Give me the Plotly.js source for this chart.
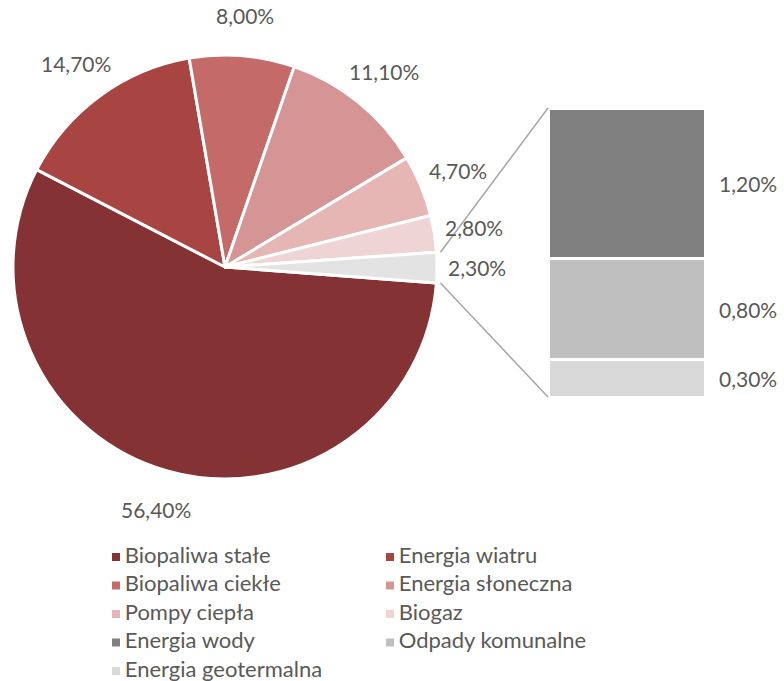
<!DOCTYPE html>
<html>
<head>
<meta charset="utf-8">
<script src="https://cdn.plot.ly/plotly-3.0.1.min.js"></script>
<style>html,body{margin:0;padding:0;background:#fff;}#chart{width:784px;height:681px;}</style>
</head>
<body>
<div id="chart"></div>
<script>
// ---- data ----
const pieLabels = ["Biopaliwa stałe", "Energia wiatru", "Biopaliwa ciekłe", "Energia słoneczna", "Pompy ciepła", "Biogaz", "Pozostałe"];
const pieValues = [56.4, 14.7, 8.0, 11.1, 4.7, 2.8, 2.3];
const pieColors = ["#843234", "#A84543", "#C46B69", "#D49594", "#E6B6B5", "#EED4D4", "#E3E3E3"];

const barLabels = ["Energia wody", "Odpady komunalne", "Energia geotermalna"];
const barValues = [1.2, 0.8, 0.3];
const barColors = ["#808080", "#BFBFBF", "#D9D9D9"];

const legendLabels = pieLabels.slice(0, 6).concat(barLabels);
const legendColors = pieColors.slice(0, 6).concat(barColors);

// ---- layout constants ----
const W = 784, H = 681;
const cx = 225, cy = 267, R = 212;
const rotation = 94.3;
const labelDist = 252;
const barX0 = 548, barX1 = 705, barY0 = 108, barY1 = 397;
const textColor = "#595959";
const font = "Lato, 'Open Sans', sans-serif";
const fmt = v => v.toFixed(2).replace('.', ',') + '%';

const total = pieValues.reduce((a, b) => a + b, 0);
const annotations = [];
let ang = rotation;
const sliceAngles = [];
pieValues.forEach((v, i) => {
  const a0 = ang, a1 = ang + v / total * 360;
  sliceAngles.push([a0, a1]);
  const mid = (a0 + a1) / 2 * Math.PI / 180;
  const px = cx + labelDist * Math.sin(mid);
  const py = cy - labelDist * Math.cos(mid);
  annotations.push({
    xref: 'paper', yref: 'paper', x: px / W, y: 1 - py / H,
    xanchor: 'center', yanchor: 'middle', showarrow: false,
    text: fmt(v), font: {family: font, size: 21, color: textColor}
  });
  ang = a1;
});

// bar labels
const barTotal = barValues.reduce((a, b) => a + b, 0);
let acc = 0;
const stackOrder = barValues.map((v, i) => i).reverse(); // bottom to top
stackOrder.forEach(i => {
  const mid = acc + barValues[i] / 2;
  annotations.push({
    xref: 'x2', yref: 'y2', x: 0.5, y: mid, xanchor: 'left', yanchor: 'middle',
    xshift: 12, showarrow: false, text: fmt(barValues[i]),
    font: {family: font, size: 21, color: textColor}
  });
  acc += barValues[i];
});

// connector lines from "other" slice to bar
const other = sliceAngles[sliceAngles.length - 1];
function pt(a) { const r = a * Math.PI / 180; return [cx + R * Math.sin(r), cy - R * Math.cos(r)]; }
const pTop = pt(other[0]), pBot = pt(other[1]);
const shapes = [
  {type: 'line', xref: 'paper', yref: 'paper', x0: (pTop[0] + 4) / W, y0: 1 - pTop[1] / H, x1: barX0 / W, y1: 1 - barY0 / H, line: {color: '#A6A6A6', width: 1.5}},
  {type: 'line', xref: 'paper', yref: 'paper', x0: (pBot[0] + 4) / W, y0: 1 - pBot[1] / H, x1: barX0 / W, y1: 1 - barY1 / H, line: {color: '#A6A6A6', width: 1.5}}
];

const traces = [];
traces.push({
  type: 'pie', values: pieValues, labels: pieLabels, sort: false,
  direction: 'clockwise', rotation: rotation,
  marker: {colors: pieColors, line: {color: '#fff', width: 3}},
  textinfo: 'none', hoverinfo: 'label+percent', showlegend: false,
  domain: {x: [(cx - R) / W, (cx + R) / W], y: [1 - (cy + R) / H, 1 - (cy - R) / H]}
});
stackOrder.forEach(i => {
  traces.push({
    type: 'bar', x: [0], y: [barValues[i]], width: [1], name: barLabels[i],
    xaxis: 'x2', yaxis: 'y2', showlegend: false,
    marker: {color: barColors[i], line: {color: '#fff', width: 3}}
  });
});

// legend as scatter
const legX = [], legY = [];
legendLabels.forEach((l, i) => {
  legX.push(i % 2 === 0 ? 116 : 390);
  legY.push(557 + Math.floor(i / 2) * 28.5);
});
traces.push({
  type: 'scatter', mode: 'markers+text', x: legX, y: legY,
  text: legendLabels.map(l => '\u2009' + l),
  textposition: 'middle right', xaxis: 'x3', yaxis: 'y3', showlegend: false, hoverinfo: 'skip',
  marker: {symbol: 'square', size: 8, color: legendColors},
  textfont: {family: font, size: 22, color: textColor}
});

const layout = {
  width: W, height: H, margin: {l: 0, r: 0, t: 0, b: 0},
  paper_bgcolor: '#fff', plot_bgcolor: 'rgba(0,0,0,0)',
  showlegend: false, barmode: 'stack', bargap: 0,
  xaxis2: {domain: [barX0 / W, barX1 / W], range: [-0.5, 0.5], visible: false, fixedrange: true, anchor: 'y2'},
  yaxis2: {domain: [1 - barY1 / H, 1 - barY0 / H], range: [0, barTotal], visible: false, fixedrange: true, anchor: 'x2'},
  xaxis3: {domain: [0, 1], range: [0, W], visible: false, anchor: 'y3'},
  yaxis3: {domain: [0, 1], range: [H, 0], visible: false, anchor: 'x3'},
  annotations: annotations, shapes: shapes
};

Plotly.newPlot('chart', traces, layout, {displayModeBar: false, staticPlot: true});
</script>
</body>
</html>
